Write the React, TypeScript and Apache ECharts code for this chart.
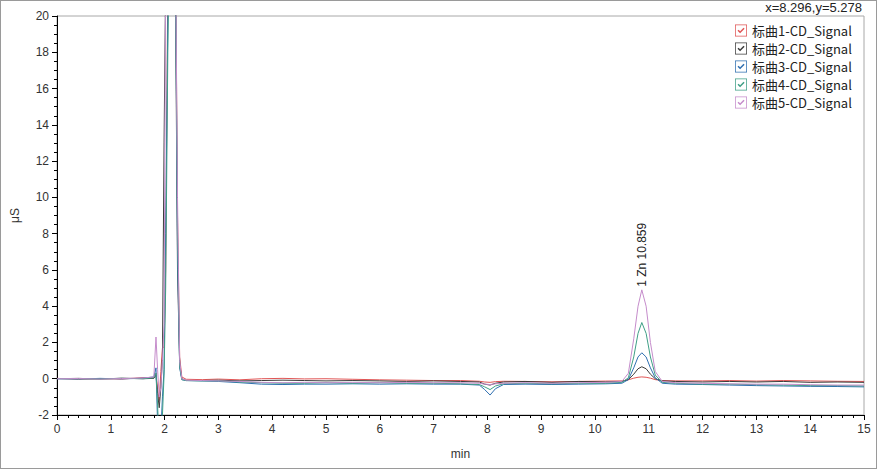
import React, { useEffect, useRef } from "react";
import * as echarts from "echarts";

const TIME = [0, 0.4, 0.8, 1.2, 1.6, 1.8, 1.84, 1.87, 1.9, 1.93, 1.96, 1.99, 2.02, 2.06, 2.1, 2.15, 2.2, 2.24, 2.28, 2.32, 2.4, 2.7, 3.0, 3.4, 3.8, 4.2, 4.6, 5.0, 5.5, 6.0, 6.5, 7.0, 7.5, 7.85, 7.95, 8.05, 8.15, 8.3, 8.7, 9.2, 9.7, 10.2, 10.5, 10.62, 10.72, 10.8, 10.87, 10.95, 11.03, 11.12, 11.25, 11.5, 12.0, 12.5, 13.0, 13.5, 14.0, 14.5, 15.0];

const S1 = [0.02, -0.03, 0.01, -0.02, 0.06, 0.05, 0.3, -0.6, -1.2, 0.4, 1.7, 1.75, 6.0, 22, 26, 26, 25, 9, 1.2, 0.1, -0.03, -0.05, -0.02, -0.06, 0.0, 0.02, -0.01, 0.0, -0.03, -0.06, -0.08, -0.1, -0.1, -0.14, -0.18, -0.2, -0.16, -0.14, -0.15, -0.17, -0.15, -0.13, -0.12, -0.06, 0.03, 0.08, 0.1, 0.08, 0.03, -0.05, -0.1, -0.12, -0.12, -0.1, -0.13, -0.1, -0.12, -0.14, -0.15];
const S2 = [0.0, 0.02, -0.02, 0.03, 0.0, 0.02, 0.2, -0.8, -1.6, -0.5, 1.2, 13, 22, 26, 26, 25, 22, 6, 0.8, 0.0, -0.1, -0.1, -0.08, -0.12, -0.1, -0.08, -0.1, -0.12, -0.1, -0.12, -0.15, -0.12, -0.15, -0.18, -0.3, -0.35, -0.25, -0.18, -0.15, -0.2, -0.15, -0.18, -0.15, -0.05, 0.25, 0.55, 0.66, 0.55, 0.25, 0.0, -0.12, -0.15, -0.18, -0.15, -0.18, -0.15, -0.2, -0.18, -0.2];
const S3 = [0.0, -0.02, 0.02, -0.01, 0.03, 0.1, 0.6, -2.5, -4, -3, -1, 0.5, 8, 20, 26, 26, 24, 7, 0.6, -0.05, -0.1, -0.12, -0.15, -0.22, -0.3, -0.32, -0.3, -0.3, -0.28, -0.3, -0.28, -0.3, -0.3, -0.35, -0.6, -0.9, -0.55, -0.32, -0.3, -0.32, -0.3, -0.28, -0.25, -0.05, 0.6, 1.2, 1.43, 1.2, 0.6, 0.05, -0.25, -0.3, -0.32, -0.35, -0.38, -0.4, -0.42, -0.43, -0.45];
const S4 = [0.01, 0.0, -0.01, 0.02, 0.0, 0.05, 0.3, -1.5, -3.5, -4, -2, 0.2, 5, 18, 26, 26, 24, 8, 0.7, -0.05, -0.1, -0.12, -0.12, -0.18, -0.22, -0.25, -0.25, -0.22, -0.25, -0.22, -0.25, -0.25, -0.28, -0.32, -0.45, -0.6, -0.4, -0.28, -0.25, -0.28, -0.25, -0.25, -0.2, 0.05, 1.2, 2.5, 3.1, 2.5, 1.2, 0.2, -0.2, -0.25, -0.3, -0.3, -0.33, -0.35, -0.38, -0.38, -0.4];
const S5 = [0.0, 0.01, -0.02, 0.01, 0.04, 0.1, 2.3, 0.5, -1.0, -0.5, 1.0, 3, 22, 26, 26, 26, 25, 10, 1.0, 0.0, -0.08, -0.1, -0.12, -0.15, -0.2, -0.22, -0.2, -0.22, -0.2, -0.22, -0.2, -0.22, -0.22, -0.25, -0.3, -0.32, -0.28, -0.25, -0.22, -0.25, -0.22, -0.2, -0.15, 0.3, 2.2, 4.0, 4.9, 4.0, 2.0, 0.4, -0.15, -0.22, -0.25, -0.28, -0.3, -0.3, -0.33, -0.35, -0.35];

const SERIES_NAMES = ["标曲1-CD_Signal", "标曲2-CD_Signal", "标曲3-CD_Signal", "标曲4-CD_Signal", "标曲5-CD_Signal"];
const SERIES_VALUES = [S1, S2, S3, S4, S5];
const COLORS = ["#e05555", "#3c3c3c", "#2f6fb0", "#3f9f86", "#c58ccb"];

const PEAK_LABEL = "1 Zn 10.859";
const PEAK_INDEX = 46;
const CURSOR_TEXT = "x=8.296,y=5.278";

const CHECK_ICON =
  "path://M0,0 L24,0 L24,24 L0,24 Z M1.5,1.5 L1.5,22.5 L22.5,22.5 L22.5,1.5 Z M5,12.5 L7.2,10.3 L10.2,13.3 L17,6.5 L19.2,8.7 L10.2,17.7 Z";

export default function App() {
  const ref = useRef<HTMLDivElement>(null);

  useEffect(() => {
    document.body.style.margin = "0";
    if (!ref.current) return;
    const chart = echarts.init(ref.current, null, { renderer: "svg" });
    const font = "'Liberation Sans', Arial, sans-serif";

    const series = SERIES_VALUES.map((vals, i) => {
      const s: any = {
        name: SERIES_NAMES[i],
        type: "line",
        data: TIME.map((t, k) => [t, vals[k]]),
        symbol: "none",
        showSymbol: false,
        clip: true,
        lineStyle: { width: 1, color: COLORS[i] },
        itemStyle: { color: COLORS[i] },
      };
      if (i === 4) {
        s.markPoint = {
          symbol: "circle",
          symbolSize: 0,
          data: [{ coord: [TIME[PEAK_INDEX], vals[PEAK_INDEX]] }],
          label: {
            show: true,
            formatter: PEAK_LABEL,
            position: "top",
            distance: 3,
            rotate: 90,
            align: "left",
            verticalAlign: "middle",
            color: "#222",
            fontSize: 12,
            fontFamily: font,
          },
        };
      }
      return s;
    });

    chart.setOption({
      animation: false,
      backgroundColor: "#ffffff",
      grid: {
        left: 53,
        right: 12,
        top: 15,
        bottom: 53,
        show: true,
        borderColor: "#a8a8a8",
        borderWidth: 1,
      },
      legend: {
        orient: "vertical",
        left: 729,
        top: 18,
        itemWidth: 12,
        itemHeight: 12,
        itemGap: 5,
        icon: CHECK_ICON,
        textStyle: { fontSize: 13, color: "#222", fontFamily: "'Noto Sans CJK SC', sans-serif" },
        data: SERIES_NAMES,
      },
      graphic: [
        {
          type: "text",
          right: 14,
          top: 0,
          style: { text: CURSOR_TEXT, fontSize: 13, fill: "#222", fontFamily: font },
        },
      ],
      xAxis: {
        type: "value",
        min: 0,
        max: 15,
        interval: 1,
        name: "min",
        nameLocation: "middle",
        nameGap: 33,
        nameTextStyle: { fontSize: 12, color: "#333", fontFamily: font },
        axisLine: { show: true, onZero: false, lineStyle: { color: "#000", width: 1 } },
        axisTick: { show: true, length: 5, lineStyle: { color: "#000" } },
        minorTick: { show: true, splitNumber: 5, length: 3, lineStyle: { color: "#000" } },
        axisLabel: { fontSize: 12, color: "#333", margin: 8, fontFamily: font },
        splitLine: { show: false },
      },
      yAxis: {
        type: "value",
        min: -2,
        max: 20,
        interval: 2,
        name: "μS",
        nameLocation: "middle",
        nameRotate: 90,
        nameGap: 36,
        nameTextStyle: { fontSize: 12, color: "#333", fontFamily: font },
        axisLine: { show: true, onZero: false, lineStyle: { color: "#000", width: 1 } },
        axisTick: { show: true, length: 5, lineStyle: { color: "#000" } },
        minorTick: { show: true, splitNumber: 4, length: 3, lineStyle: { color: "#000" } },
        axisLabel: { fontSize: 12, color: "#333", margin: 8, fontFamily: font },
        splitLine: { show: false },
      },
      series,
    });

    return () => chart.dispose();
  }, []);

  return (
    <div
      style={{
        width: 877,
        height: 469,
        border: "1px solid #9a9a9a",
        boxSizing: "border-box",
        position: "relative",
        background: "#fff",
      }}
    >
      <div ref={ref} style={{ width: 875, height: 467 }} />
    </div>
  );
}
